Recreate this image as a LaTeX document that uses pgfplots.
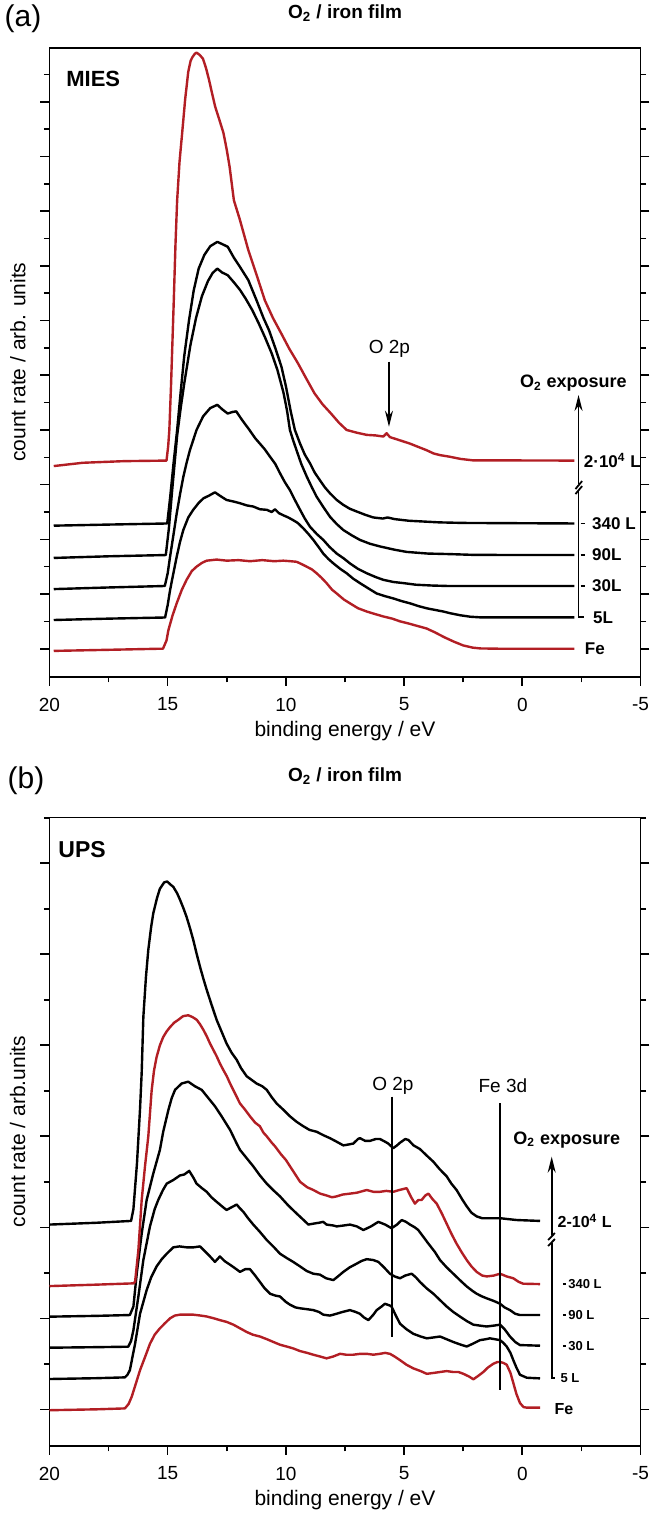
\documentclass[border=0pt]{standalone}
\usepackage{fontspec}
\setmainfont{Liberation Sans}
\usepackage{pgfplots}
\pgfplotsset{compat=1.18}
\usetikzlibrary{arrows.meta}
\definecolor{fered}{RGB}{178,30,36}

\pgfplotsset{spec/.style={
  scale only axis, width=295.5pt,
  x dir=reverse, xmin=-5, xmax=20,
  xtick={20,15,10,5,0,-5}, xticklabels={20,15,10,5,0,-5},
  minor xtick={17.5,12.5,7.5,2.5,-2.5},
  xtick pos=left, ytick pos=both, tick align=outside,
  yticklabels={},
  major tick length=4.5pt, minor tick length=2.8pt,
  every tick/.style={black, line width=0.8pt},
  axis line style={line width=0.8pt},
  tick label style={font=\fontsize{9.5}{11}\selectfont},
  xticklabel style={anchor=center, yshift=-9.4pt},
  title style={font=\fontsize{9.5}{11}\selectfont\bfseries},
  clip=false,
  every axis plot/.append style={line width=1.2pt, line join=round},
}}
\tikzset{
  lab/.style={font=\fontsize{8.5}{9}\selectfont\bfseries, inner sep=0pt, anchor=west},
  labs/.style={font=\fontsize{6.5}{7}\selectfont\bfseries, inner sep=0pt, anchor=west},
  axlab/.style={font=\fontsize{10.5}{12}\selectfont, anchor=center},
  ann/.style={line width=0.9pt},
  arr/.style={line width=0.9pt, -{Stealth[length=8pt,width=4pt]}},
}

\begin{document}
\begin{tikzpicture}
\path[use as bounding box] (0,0) rectangle (324.5pt,-758.5pt);

% ---------- (a) MIES ----------
\begin{axis}[spec, at={(24.75pt,-23.85pt)}, anchor=north west, height=314.5pt,
  ymin=-0.512, ymax=10.99, ytick={0,...,10}, minor ytick={0.5,1.5,...,10.5},
  title={O\textsubscript{2} / iron film},
  title style={at={(axis description cs:0.5,1.036)}, anchor=center}]

% Fe
\addplot[fered] table {
19.82 -0.04
17.5 -0.02
15.3 0.0
15.2 0.0
15.05 0.15
14.97 0.34
14.80 0.60
14.62 0.83
14.40 1.08
14.20 1.26
13.98 1.42
13.78 1.50
13.55 1.57
13.35 1.61
12.93 1.63
12.5 1.61
12.0 1.62
11.52 1.60
11.0 1.62
10.5 1.60
10.11 1.61
9.8 1.60
9.55 1.59
9.35 1.55
9.12 1.50
8.90 1.45
8.70 1.38
8.50 1.30
8.28 1.20
8.05 1.08
7.85 1.01
7.55 0.90
7.29 0.83
6.95 0.74
6.58 0.68
6.2 0.63
5.88 0.59
5.5 0.55
5.17 0.50
4.80 0.46
4.47 0.42
4.05 0.37
3.70 0.30
3.30 0.21
2.90 0.13
2.50 0.06
2.10 0.02
1.78 0.005
1.0 0
-2.2 0
};
% 5 L
\addplot[black] table {
19.82 0.525
17.5 0.55
15.2 0.57
15.11 0.57
15.0 0.80
14.90 1.07
14.75 1.40
14.62 1.68
14.48 1.95
14.34 2.17
14.13 2.40
13.92 2.54
13.70 2.66
13.49 2.75
13.25 2.80
13.00 2.86
12.80 2.80
12.51 2.72
12.20 2.69
11.94 2.66
11.65 2.62
11.38 2.60
11.10 2.55
10.81 2.54
10.60 2.50
10.46 2.55
10.30 2.48
10.11 2.44
9.90 2.40
9.69 2.35
9.50 2.30
9.26 2.20
9.05 2.10
8.84 1.99
8.60 1.85
8.42 1.74
8.20 1.64
7.99 1.56
7.70 1.46
7.43 1.38
7.15 1.28
6.87 1.20
6.50 1.10
6.16 1.01
5.80 0.96
5.46 0.92
5.10 0.87
4.75 0.83
4.40 0.78
4.05 0.74
3.70 0.71
3.34 0.68
3.06 0.65
2.60 0.61
2.20 0.585
1.80 0.574
-2.2 0.574
};
% 30 L
\addplot[black] table {
19.82 1.09
17.5 1.12
15.2 1.146
15.12 1.15
15.0 1.38
14.90 1.68
14.75 2.10
14.62 2.47
14.48 2.82
14.34 3.14
14.20 3.40
14.06 3.63
13.78 4.0
13.50 4.25
13.20 4.40
12.9 4.46
12.70 4.38
12.46 4.30
12.25 4.33
12.10 4.34
11.85 4.18
11.59 4.03
11.30 3.85
11.10 3.75
10.90 3.65
10.67 3.51
10.45 3.38
10.25 3.21
10.05 3.05
9.83 2.90
9.62 2.72
9.40 2.54
9.20 2.38
8.98 2.23
8.70 2.10
8.42 1.99
8.15 1.86
7.85 1.74
7.55 1.65
7.29 1.56
6.95 1.46
6.58 1.38
6.20 1.31
5.88 1.26
5.45 1.22
5.03 1.20
4.50 1.17
3.80 1.155
3.06 1.146
-2.2 1.146
};
% 90 L
\addplot[black] table {
19.82 1.66
17.5 1.69
15.08 1.713
14.95 2.2
14.80 2.95
14.60 3.90
14.45 4.4
14.30 4.85
14.04 5.55
13.80 6.05
13.55 6.45
13.30 6.72
13.10 6.87
12.90 6.95
12.70 6.88
12.46 6.83
12.20 6.70
11.94 6.56
11.70 6.40
11.42 6.19
11.15 5.95
10.89 5.70
10.60 5.40
10.36 5.10
10.10 4.68
9.95 4.35
9.83 4.00
9.70 3.82
9.55 3.63
9.35 3.38
9.12 3.15
8.90 2.95
8.70 2.78
8.40 2.58
8.13 2.41
7.85 2.28
7.57 2.17
7.20 2.07
6.87 1.99
6.45 1.92
6.02 1.87
5.40 1.81
4.89 1.77
4.00 1.74
3.06 1.73
2.00 1.715
-2.2 1.713
};
% 340 L
\addplot[black] table {
19.82 2.25
17.5 2.27
15.02 2.29
14.90 2.75
14.75 3.40
14.60 4.0
14.45 4.7
14.30 5.35
14.10 6.0
13.90 6.55
13.69 6.95
13.45 7.20
13.20 7.36
12.90 7.44
12.70 7.40
12.46 7.35
12.20 7.15
11.94 6.98
11.59 6.74
11.24 6.37
10.95 6.05
10.71 5.82
10.45 5.50
10.19 5.16
10.0 4.80
9.80 4.35
9.62 4.00
9.40 3.75
9.20 3.55
8.98 3.39
8.78 3.22
8.56 3.08
8.35 2.95
8.13 2.84
7.85 2.72
7.57 2.63
7.30 2.56
7.01 2.51
6.65 2.45
6.30 2.40
5.90 2.38
5.70 2.40
5.40 2.37
4.80 2.34
3.50 2.31
2.50 2.30
-2.2 2.29
};
% 2x10^4 L
\addplot[fered] table {
19.82 3.34
18.59 3.40
16.84 3.43
15.05 3.44
14.98 3.70
14.93 4.00
14.86 4.80
14.80 5.60
14.74 6.40
14.67 7.40
14.60 8.20
14.50 8.90
14.39 9.42
14.26 10.05
14.13 10.55
14.03 10.75
13.95 10.82
13.85 10.88
13.78 10.90
13.65 10.86
13.51 10.79
13.38 10.62
13.25 10.40
13.12 10.15
12.99 9.91
12.82 9.68
12.64 9.43
12.50 9.12
12.38 8.81
12.20 8.20
11.95 7.85
11.59 7.29
11.25 6.85
10.89 6.37
10.55 6.05
10.19 5.76
9.85 5.48
9.49 5.22
9.15 4.95
8.79 4.67
8.45 4.47
8.09 4.30
7.75 4.13
7.43 4.00
7.00 3.95
6.58 3.91
6.20 3.90
5.88 3.88
5.74 3.94
5.60 3.87
5.46 3.85
5.10 3.80
4.75 3.75
4.40 3.69
4.05 3.63
3.75 3.57
3.48 3.54
3.06 3.51
2.60 3.47
2.10 3.445
-2.2 3.44
};

\node[font=\fontsize{15}{17}\selectfont] at (axis description cs:-0.0448,1.0456) {(a)};
\node[font=\fontsize{11}{13}\selectfont\bfseries, anchor=west, inner sep=0pt] at (axis description cs:0.0279,0.9498) {MIES};
\node[axlab] at (axis description cs:0.5,-0.0863) {binding energy / eV};
\node[axlab, rotate=90] at (axis description cs:-0.0533,0.5) {count rate / arb. units};
% O 2p marker
\node[font=\fontsize{9.5}{11}\selectfont, anchor=base] at (axis cs:5.62,5.39) {O 2p};
\draw[arr] (axis cs:5.64,5.25) -- (axis cs:5.64,4.06);
% exposure scale
\node[font=\fontsize{9}{10}\selectfont\bfseries] at (axis cs:-2.16,4.85) {O\textsubscript{2} exposure};
\draw[arr] (axis cs:-2.38,3.011) -- (axis cs:-2.38,4.64);
\draw[ann] (axis cs:-2.25,2.92) -- (axis cs:-2.53,3.066);
\draw[ann] (axis cs:-2.25,2.828) -- (axis cs:-2.53,2.974);
\draw[ann] (axis cs:-2.38,2.883) -- (axis cs:-2.38,0.574) -- (axis cs:-2.61,0.574);
\draw[ann] (axis cs:-2.47,2.29) -- (axis cs:-2.66,2.29);
\draw[ann] (axis cs:-2.47,1.713) -- (axis cs:-2.66,1.713);
\draw[ann] (axis cs:-2.47,1.146) -- (axis cs:-2.66,1.146);
\node[lab] at (axis cs:-2.59,3.44) {2·10\textsuperscript{4} L};
\node[lab] at (axis cs:-2.94,2.29) {340 L};
\node[lab] at (axis cs:-2.94,1.713) {90L};
\node[lab] at (axis cs:-2.94,1.146) {30L};
\node[lab] at (axis cs:-2.98,0.574) {5L};
\node[lab] at (axis cs:-2.63,0) {Fe};
\end{axis}

% ---------- (b) UPS ----------
\begin{axis}[spec, at={(24.75pt,-408.65pt)}, anchor=north west, height=314.2pt,
  ymin=-0.4, ymax=6.505, ytick={0,...,6}, minor ytick={0.5,1.5,...,6.5},
  title={O\textsubscript{2} / iron film},
  title style={at={(axis description cs:0.5,1.047)}, anchor=center}]

% Fe
\addplot[fered] table {
20.0 -0.01
18.0 0.0
16.81 0.01
16.65 0.06
16.52 0.14
16.35 0.28
16.17 0.43
15.95 0.58
15.75 0.72
15.55 0.82
15.33 0.89
15.10 0.95
14.90 1.00
14.70 1.03
14.48 1.04
14.20 1.04
13.92 1.04
13.60 1.03
13.35 1.02
13.05 1.00
12.79 0.98
12.50 0.96
12.22 0.93
11.94 0.89
11.66 0.85
11.40 0.82
11.10 0.80
10.80 0.77
10.53 0.74
10.25 0.71
9.97 0.69
9.70 0.67
9.40 0.64
9.10 0.62
8.84 0.60
8.55 0.58
8.28 0.56
8.00 0.58
7.71 0.61
7.45 0.60
7.15 0.60
6.85 0.61
6.58 0.61
6.30 0.60
6.02 0.61
5.80 0.62
5.60 0.61
5.40 0.58
5.17 0.54
4.90 0.49
4.61 0.45
4.30 0.42
4.04 0.39
3.75 0.40
3.48 0.41
3.20 0.42
2.92 0.41
2.70 0.41
2.49 0.39
2.25 0.36
2.07 0.33
1.85 0.37
1.65 0.41
1.45 0.46
1.23 0.50
1.05 0.52
0.94 0.52
0.80 0.51
0.66 0.49
0.50 0.40
0.38 0.29
0.25 0.17
0.10 0.07
-0.05 0.025
-0.19 0.018
-0.75 0.018
};
% 5 L
\addplot[black] table {
20.0 0.333
18.0 0.342
16.81 0.351
16.70 0.38
16.60 0.43
16.38 0.72
16.17 1.05
15.89 1.31
15.70 1.45
15.47 1.57
15.25 1.65
15.04 1.71
14.76 1.78
14.50 1.79
14.20 1.78
13.90 1.78
13.63 1.79
13.40 1.73
13.21 1.68
13.00 1.62
12.79 1.68
12.60 1.63
12.37 1.59
12.15 1.55
11.94 1.51
11.72 1.54
11.52 1.54
11.30 1.47
11.10 1.40
10.90 1.33
10.67 1.27
10.45 1.25
10.25 1.24
10.0 1.18
9.83 1.15
9.60 1.12
9.40 1.11
9.10 1.10
8.84 1.09
8.60 1.07
8.42 1.04
8.14 1.03
7.99 1.04
7.60 1.07
7.29 1.09
7.05 1.07
6.87 1.05
6.70 1.01
6.51 0.98
6.30 1.04
6.16 1.09
5.95 1.13
5.81 1.16
5.60 1.14
5.53 1.13
5.35 1.03
5.17 0.94
4.90 0.88
4.61 0.83
4.30 0.80
4.04 0.78
3.75 0.79
3.48 0.80
3.20 0.77
2.92 0.74
2.60 0.71
2.35 0.69
2.10 0.72
1.79 0.76
1.55 0.77
1.37 0.78
1.15 0.77
0.94 0.76
0.80 0.73
0.66 0.69
0.50 0.62
0.38 0.54
0.25 0.46
0.10 0.38
-0.19 0.347
-0.75 0.34
};
% 30 L
\addplot[black] table {
20.0 0.677
18.0 0.683
16.67 0.688
16.55 0.75
16.45 0.87
16.24 1.24
16.03 1.64
15.75 2.01
15.55 2.20
15.40 2.30
15.20 2.41
15.04 2.48
14.76 2.52
14.48 2.57
14.30 2.58
14.09 2.62
13.90 2.54
13.78 2.48
13.55 2.43
13.35 2.39
13.15 2.33
12.93 2.28
12.70 2.23
12.51 2.19
12.30 2.22
12.08 2.25
11.95 2.21
11.80 2.17
11.60 2.10
11.38 2.03
11.10 1.95
10.81 1.86
10.50 1.78
10.25 1.71
9.95 1.66
9.69 1.62
9.40 1.57
9.12 1.52
8.84 1.49
8.56 1.48
8.30 1.44
7.99 1.42
7.80 1.46
7.57 1.51
7.30 1.56
7.01 1.60
6.80 1.63
6.58 1.65
6.30 1.64
6.09 1.62
5.85 1.56
5.60 1.49
5.40 1.46
5.17 1.44
4.95 1.47
4.68 1.49
4.50 1.45
4.33 1.40
4.05 1.33
3.76 1.27
3.48 1.20
3.20 1.13
2.92 1.07
2.64 1.02
2.35 0.97
2.07 0.93
1.80 0.92
1.51 0.91
1.20 0.92
0.94 0.93
0.75 0.88
0.52 0.80
0.30 0.74
0.10 0.706
-0.75 0.699
};
% 90 L
\addplot[black] table {
20.0 1.018
18.0 1.027
16.60 1.036
16.45 1.13
16.31 1.49
16.10 1.93
15.89 2.30
15.61 2.59
15.33 2.85
15.19 3.05
14.97 3.29
14.83 3.42
14.69 3.51
14.41 3.58
14.13 3.60
13.85 3.55
13.56 3.51
13.28 3.42
13.00 3.33
12.72 3.22
12.36 3.07
12.08 2.92
11.94 2.85
11.66 2.76
11.38 2.67
11.10 2.57
10.81 2.48
10.50 2.40
10.25 2.34
9.90 2.24
9.54 2.15
9.25 2.08
9.05 2.03
8.84 2.04
8.60 2.05
8.42 2.06
8.28 2.03
8.0 2.02
7.85 2.01
7.55 2.02
7.29 2.03
7.0 2.01
6.72 1.97
6.40 2.01
6.09 2.06
5.80 2.03
5.53 1.99
5.30 2.03
5.10 2.08
4.92 2.06
4.75 2.03
4.55 2.00
4.40 1.97
4.20 1.90
3.97 1.82
3.70 1.73
3.48 1.64
3.20 1.56
2.92 1.49
2.60 1.41
2.35 1.35
2.10 1.30
1.93 1.27
1.70 1.24
1.51 1.22
1.20 1.19
0.94 1.16
0.75 1.12
0.52 1.09
0.30 1.05
0.10 1.036
-0.75 1.036
};
% 340 L
\addplot[fered] table {
20.0 1.354
18.0 1.37
16.45 1.384
16.38 1.40
16.24 1.75
16.10 2.30
15.96 2.67
15.82 3.00
15.68 3.50
15.58 3.72
15.47 3.87
15.33 4.00
15.19 4.09
15.05 4.15
14.90 4.20
14.72 4.25
14.55 4.28
14.35 4.32
14.13 4.33
13.95 4.31
13.77 4.28
13.63 4.23
13.49 4.17
13.35 4.10
13.21 4.02
13.07 3.95
12.93 3.88
12.79 3.80
12.65 3.73
12.50 3.66
12.36 3.58
12.15 3.47
11.94 3.36
11.75 3.30
11.52 3.22
11.30 3.15
11.10 3.11
10.95 3.04
10.81 3.00
10.60 2.93
10.46 2.89
10.20 2.80
10.0 2.74
9.70 2.62
9.40 2.50
9.10 2.44
8.84 2.41
8.55 2.37
8.28 2.35
8.05 2.33
7.85 2.34
7.60 2.36
7.29 2.37
7.0 2.38
6.58 2.41
6.30 2.39
6.02 2.39
5.75 2.40
5.46 2.39
5.20 2.41
4.89 2.43
4.70 2.33
4.54 2.26
4.40 2.30
4.26 2.30
4.10 2.35
3.97 2.37
3.80 2.31
3.62 2.26
3.40 2.15
3.20 2.04
3.00 1.93
2.78 1.82
2.55 1.72
2.35 1.64
2.15 1.57
1.93 1.51
1.70 1.47
1.51 1.46
1.20 1.47
0.94 1.49
0.66 1.46
0.38 1.44
0.15 1.40
-0.04 1.38
-0.75 1.376
};
% 2x10^4 L
\addplot[black] table {
20.0 2.03
18.0 2.05
16.55 2.07
16.45 2.2
16.30 2.7
16.17 3.3
16.10 3.7
16.03 4.31
15.92 4.75
15.82 5.05
15.70 5.30
15.61 5.45
15.45 5.62
15.33 5.72
15.15 5.79
15.02 5.80
14.90 5.77
14.76 5.74
14.60 5.67
14.48 5.60
14.34 5.51
14.20 5.41
14.06 5.29
13.92 5.16
13.78 5.01
13.63 4.86
13.50 4.74
13.35 4.61
13.15 4.45
12.93 4.28
12.72 4.15
12.51 4.02
12.30 3.92
12.08 3.84
11.90 3.75
11.66 3.66
11.45 3.62
11.24 3.58
11.0 3.55
10.81 3.51
10.60 3.43
10.39 3.36
10.10 3.29
9.83 3.22
9.55 3.16
9.26 3.11
9.0 3.07
8.70 3.05
8.40 3.01
8.14 2.98
7.85 2.94
7.57 2.90
7.35 2.91
7.15 2.92
6.95 2.97
6.87 2.98
6.65 2.95
6.44 2.95
6.20 2.97
6.02 2.97
5.80 2.94
5.67 2.92
5.46 2.87
5.30 2.90
5.17 2.93
4.95 2.97
4.82 2.96
4.60 2.90
4.33 2.86
4.05 2.79
3.76 2.72
3.50 2.64
3.20 2.56
3.00 2.48
2.78 2.41
2.55 2.31
2.35 2.23
2.15 2.16
1.93 2.12
1.70 2.10
1.51 2.10
1.20 2.10
0.94 2.10
0.60 2.09
0.24 2.08
-0.75 2.07
};

\node[font=\fontsize{15}{17}\selectfont] at (axis description cs:-0.0398,1.0578) {(b)};
\node[font=\fontsize{11.5}{13}\selectfont\bfseries, anchor=west, inner sep=0pt] at (axis description cs:0.0144,0.948) {UPS};
\node[axlab] at (axis description cs:0.5,-0.0864) {binding energy / eV};
\node[axlab, rotate=90] at (axis description cs:-0.0541,0.5) {count rate / arb.units};
% O 2p and Fe 3d markers
\draw[ann] (axis cs:5.52,3.435) -- (axis cs:5.52,0.798);
\node[font=\fontsize{9.5}{11}\selectfont, anchor=base] at (axis cs:5.47,3.508) {O 2p};
\draw[ann] (axis cs:0.93,3.363) -- (axis cs:0.93,0.212);
\node[font=\fontsize{9.5}{11}\selectfont, anchor=base] at (axis cs:0.82,3.476) {Fe 3d};
% exposure scale
\node[font=\fontsize{9}{10}\selectfont\bfseries] at (axis cs:-1.88,2.96) {O\textsubscript{2} exposure};
\draw[arr] (axis cs:-1.244,1.915) -- (axis cs:-1.244,2.776);
\draw[ann] (axis cs:-1.09,1.860) -- (axis cs:-1.38,1.937);
\draw[ann] (axis cs:-1.09,1.794) -- (axis cs:-1.38,1.871);
\draw[ann] (axis cs:-1.244,1.826) -- (axis cs:-1.244,0.348) -- (axis cs:-1.38,0.348);
\draw[ann] (axis cs:-1.72,1.376) -- (axis cs:-1.86,1.376);
\draw[ann] (axis cs:-1.72,1.036) -- (axis cs:-1.86,1.036);
\draw[ann] (axis cs:-1.72,0.699) -- (axis cs:-1.86,0.699);
\node[lab, font=\fontsize{8}{9}\selectfont\bfseries] at (axis cs:-1.48,2.07) {2-10\textsuperscript{4} L};
\node[labs] at (axis cs:-1.93,1.376) {340 L};
\node[labs] at (axis cs:-1.93,1.036) {90 L};
\node[labs] at (axis cs:-1.93,0.699) {30 L};
\node[labs] at (axis cs:-1.60,0.348) {5 L};
\node[lab, font=\fontsize{8}{9}\selectfont\bfseries] at (axis cs:-1.35,0) {Fe};
\end{axis}
\end{tikzpicture}
\end{document}
